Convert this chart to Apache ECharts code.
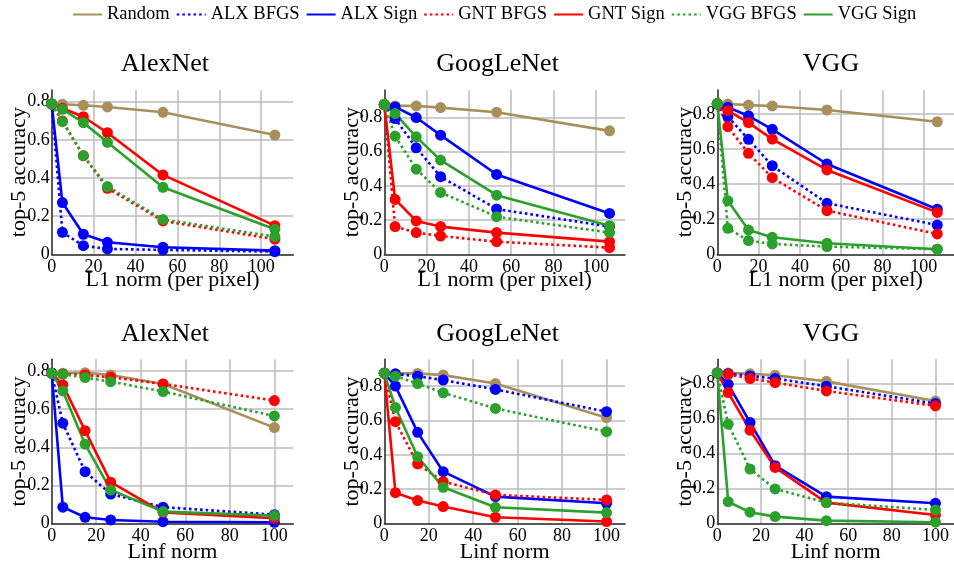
<!DOCTYPE html>
<html>
<head>
<meta charset="utf-8">
<script src="https://cdn.jsdelivr.net/npm/echarts@6/dist/echarts.min.js"></script>
<style>
html,body{margin:0;padding:0;background:#fff;}
#chart{width:954px;height:565px;}
</style>
</head>
<body>
<div id="chart"></div>
<script>
// ---------- data ----------
const SERIES_NAMES = ['Random', 'ALX BFGS', 'ALX Sign', 'GNT BFGS', 'GNT Sign', 'VGG BFGS', 'VGG Sign'];
const SERIES_COLORS = ['#a88f5c', '#0000ff', '#0000ff', '#ff0000', '#ff0000', '#2ca02c', '#2ca02c'];
const SERIES_DOTTED = [false, true, false, true, false, true, false];

const PANEL_TITLES = ['AlexNet', 'GoogLeNet', 'VGG', 'AlexNet', 'GoogLeNet', 'VGG'];
const X_NAMES = ['L1 norm (per pixel)', 'Linf norm'];

const L1_X = [0, 5.1, 15.1, 26.6, 53.1, 106.5];
const LINF_X = [0, 5, 15, 26.5, 50, 100];

const Y_TICKS = [0, 0.2, 0.4, 0.6, 0.8];
const X_TICKS = [0, 20, 40, 60, 80, 100];

// rows follow SERIES_NAMES order
const alexnetL1 = [
  [0.788, 0.786, 0.781, 0.772, 0.744, 0.625],
  [0.788, 0.115, 0.045, 0.028, 0.023, 0.014],
  [0.788, 0.271, 0.105, 0.063, 0.037, 0.019],
  [0.788, 0.699, 0.517, 0.346, 0.175, 0.079],
  [0.788, 0.765, 0.721, 0.637, 0.416, 0.150],
  [0.788, 0.695, 0.517, 0.355, 0.183, 0.093],
  [0.788, 0.760, 0.690, 0.587, 0.351, 0.131]
];
const googlenetL1 = [
  [0.876, 0.868, 0.868, 0.858, 0.831, 0.722],
  [0.876, 0.794, 0.623, 0.454, 0.265, 0.162],
  [0.876, 0.862, 0.800, 0.697, 0.467, 0.239],
  [0.876, 0.162, 0.127, 0.107, 0.074, 0.039],
  [0.876, 0.321, 0.195, 0.162, 0.127, 0.074],
  [0.876, 0.691, 0.498, 0.362, 0.220, 0.127],
  [0.876, 0.823, 0.687, 0.551, 0.346, 0.167]
];
const vggL1 = [
  [0.858, 0.857, 0.851, 0.846, 0.823, 0.756],
  [0.858, 0.785, 0.656, 0.505, 0.291, 0.167],
  [0.858, 0.838, 0.790, 0.713, 0.515, 0.257],
  [0.858, 0.728, 0.576, 0.437, 0.249, 0.116],
  [0.858, 0.819, 0.751, 0.657, 0.481, 0.239],
  [0.858, 0.148, 0.078, 0.059, 0.044, 0.029],
  [0.858, 0.306, 0.139, 0.097, 0.063, 0.029]
];
const alexnetLinf = [
  [0.788, 0.788, 0.791, 0.779, 0.732, 0.503],
  [0.788, 0.526, 0.272, 0.155, 0.086, 0.047],
  [0.788, 0.086, 0.033, 0.019, 0.010, 0.007],
  [0.788, 0.784, 0.779, 0.767, 0.732, 0.645],
  [0.788, 0.727, 0.487, 0.217, 0.059, 0.028],
  [0.788, 0.783, 0.765, 0.744, 0.692, 0.564],
  [0.788, 0.695, 0.416, 0.176, 0.063, 0.042]
];
const googlenetLinf = [
  [0.875, 0.874, 0.874, 0.864, 0.815, 0.616],
  [0.875, 0.870, 0.858, 0.835, 0.781, 0.651],
  [0.875, 0.800, 0.531, 0.302, 0.157, 0.118],
  [0.875, 0.593, 0.347, 0.244, 0.167, 0.138],
  [0.875, 0.180, 0.134, 0.099, 0.037, 0.012],
  [0.875, 0.858, 0.815, 0.761, 0.670, 0.535],
  [0.875, 0.676, 0.389, 0.211, 0.095, 0.064]
];
const vggLinf = [
  [0.861, 0.861, 0.857, 0.848, 0.813, 0.701],
  [0.861, 0.857, 0.844, 0.829, 0.785, 0.686],
  [0.861, 0.796, 0.578, 0.331, 0.154, 0.116],
  [0.861, 0.853, 0.829, 0.806, 0.758, 0.673],
  [0.861, 0.749, 0.534, 0.321, 0.120, 0.049],
  [0.861, 0.568, 0.312, 0.198, 0.120, 0.078],
  [0.861, 0.125, 0.065, 0.040, 0.017, 0.008]
];

const PANEL_DATA = [alexnetL1, googlenetL1, vggL1, alexnetLinf, googlenetLinf, vggLinf];
const PANEL_X = [L1_X, L1_X, L1_X, LINF_X, LINF_X, LINF_X];
const Y_MAX = [0.861, 0.961, 0.937, 0.861, 0.956, 0.939];
const X_MAX = [115.3, 113.8, 114.6, 108.5, 108.3, 108.5];

// ---------- layout ----------
const FONT = "'Liberation Serif', 'DejaVu Serif', serif";
const GRID_LEFT = [51.7, 384.3, 717.3];
const GRID_WIDTH = [241.6, 240.7, 241.0];
const GRID_TOP = [90, 359.3];
const GRID_HEIGHT = 164.3;
const TITLE_X = [165, 497.5, 831];
const TITLE_TOP = [50.8, 320.8];
const X_NAME_GAP = [15, 17.5];

const grids = [], xAxes = [], yAxes = [], titles = [], series = [];
for (let p = 0; p < 6; p++) {
  const col = p % 3, row = Math.floor(p / 3);
  grids.push({left: GRID_LEFT[col], top: GRID_TOP[row], width: GRID_WIDTH[col], height: GRID_HEIGHT, containLabel: false});
  titles.push({
    text: PANEL_TITLES[p], left: TITLE_X[col], top: TITLE_TOP[row], textAlign: 'center', padding: 0,
    textStyle: {fontFamily: FONT, fontSize: 26, fontWeight: 'normal', color: '#000'}
  });
  xAxes.push({
    type: 'value', gridIndex: p, min: 0, max: X_MAX[p], interval: 20,
    name: X_NAMES[row], nameLocation: 'middle', nameGap: X_NAME_GAP[row], nameMoveOverlap: false,
    nameTextStyle: {fontFamily: FONT, fontSize: 22, color: '#000'},
    axisLine: {show: true, onZero: false, lineStyle: {color: '#222', width: 1.5}},
    axisTick: {show: false},
    axisLabel: {
      fontFamily: FONT, fontSize: 18, color: '#000', margin: 4, showMaxLabel: false, hideOverlap: false,
      formatter: v => (X_TICKS.indexOf(v) >= 0 ? String(v) : '')
    },
    splitLine: {show: true, showMinLine: false, showMaxLine: false, lineStyle: {color: '#bdbdbd', width: 1.5}}
  });
  yAxes.push({
    type: 'value', gridIndex: p, min: 0, max: Y_MAX[p], interval: 0.2,
    name: 'top-5 accuracy', nameLocation: 'middle', nameGap: 21.5, nameMoveOverlap: false,
    nameTextStyle: {fontFamily: FONT, fontSize: 22, color: '#000'},
    axisLine: {show: true, onZero: false, lineStyle: {color: '#222', width: 1.5}},
    axisTick: {show: false},
    axisLabel: {
      fontFamily: FONT, fontSize: 18, color: '#000', margin: 2, showMaxLabel: false, hideOverlap: false,
      formatter: v => {
        const t = Y_TICKS.find(k => Math.abs(k - v) < 1e-6);
        return t === undefined ? '' : (t === 0 ? '0' : t.toFixed(1));
      }
    },
    splitLine: {show: true, showMinLine: false, showMaxLine: false, lineStyle: {color: '#bdbdbd', width: 1.5}}
  });
  const rows = PANEL_DATA[p], xs = PANEL_X[p];
  for (let s = 0; s < SERIES_NAMES.length; s++) {
    series.push({
      name: SERIES_NAMES[s], type: 'line', xAxisIndex: p, yAxisIndex: p,
      data: xs.map((x, i) => [x, rows[s][i]]),
      symbol: 'circle', symbolSize: 11, showSymbol: true, clip: false,
      lineStyle: {color: SERIES_COLORS[s], width: 2.6, type: SERIES_DOTTED[s] ? [2.6, 3] : 'solid'},
      itemStyle: {color: SERIES_COLORS[s]},
      emphasis: {disabled: true},
      animation: false
    });
  }
}

const chart = echarts.init(document.getElementById('chart'), null, {renderer: 'canvas'});
chart.setOption({
  backgroundColor: '#fff',
  animation: false,
  title: titles,
  legend: {
    data: SERIES_NAMES, top: 5, left: 72, padding: 0, itemGap: 6,
    itemWidth: 29, itemHeight: 14,
    itemStyle: {opacity: 0},
    textStyle: {fontFamily: FONT, fontSize: 18.5, color: '#000'}
  },
  grid: grids,
  xAxis: xAxes,
  yAxis: yAxes,
  series: series
});
</script>
</body>
</html>
